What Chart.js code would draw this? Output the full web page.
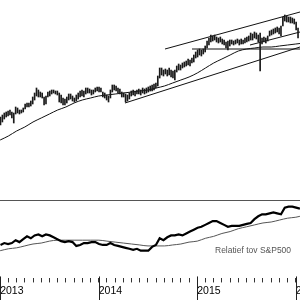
<!DOCTYPE html>
<html><head><meta charset="utf-8">
<script src="https://cdn.jsdelivr.net/npm/chart.js@4/dist/chart.umd.min.js"></script>
<style>
html,body{margin:0;padding:0;background:#fff;width:300px;height:300px;overflow:hidden}
canvas{position:absolute;left:0;display:block}
#c1{top:0}
#c2{top:200px}
</style></head><body>
<canvas id="c1" width="300" height="200"></canvas>
<canvas id="c2" width="300" height="100"></canvas>
<script>
// x unit: months since January 2013
const X_MIN = -0.02, X_MAX = 36.51;
const yearLabels = ['2013', '2014', '2015', '2016'];
const monthTicks = Array.from({length: 37}, (_, i) => i);
const firstWeek = 0.04, weekStep = 12 / 52;

// weekly price bars (relative price units)
const barHigh = [83,85,87,88,89,90,88,87,93,92, 90,90,92,96,97,97,99,103,107,112,
  110,108,107,103,104,108,109,110,110,109, 109,107,105,102,101,103,106,106,104,102,
  105,107,109,110,109,112,112,111,110,110, 112,113,113,112,108,107,105,104,110,115,
  115,114,112,111,108,107,106,105,107,109, 110,109,110,111,110,112,111,112,113,114,
  115,116,117,124,132,132,130,131,130,132, 130,129,130,134,136,135,137,138,139,141,
  140,142,145,148,150,151,150,151,154,159, 162,165,164,165,163,162,163,161,160,158,
  159,160,160,159,160,161,160,161,160,162, 163,164,167,166,168,167,165,167,162,163,
  162,164,169,170,171,172,173,172,174,183, 185,184,183,183,182,181,178,172];
const barLow = [75,78,81,83,84,85,82,77,86,87, 86,87,88,91,93,93,94,96,100,104,
  103,103,102,95,96,103,104,106,107,106, 105,98,97,95,95,97,100,101,99,98,
  99,101,103,104,103,106,107,107,105,106, 108,109,108,108,103,102,100,98,102,108,
  110,109,107,106,103,103,98,99,101,104, 105,104,106,106,105,107,106,107,108,109,
  109,110,112,114,122,125,124,126,124,125, 123,122,120,128,130,130,132,133,134,135,
  134,137,138,142,143,145,144,146,148,152, 155,158,159,160,158,157,158,156,155,152,
  150,154,156,155,156,157,155,156,156,157, 158,159,160,160,162,161,158,129,156,158,
  157,159,164,165,166,167,168,166,164,174, 179,178,178,177,177,176,170,162];

// long moving average of price, monthly
const priceMA = [60,64,69,73,78,82,86,90,93,97,100,102,104,105,106,107,108,109,110,112,
  114,117,120,123,127,132,137,141,145,149,151,152,153,153,154,155,156,157];

// trend lines: [month, price] end points
const channelUpper = [[20.07,151],[36.51,188]];
const channelLower = [[30.42,155],[36.51,168]];
const levelLine = [[23.36,151],[36.51,151]];
const supportLine = [[15.20,97],[36.51,153]];

// relative strength vs S&P500 (biweekly) and its moving average (monthly)
const rsValues = [35,37,36,37,40,38,41,44,42,45, 46,44,46,45,43,41,39,38,39,38,
  34,35,37,37,38,38,36,35,35,37, 35,34,33,32,31,30,31,29,29,29,
  33,35,42,40,43,45,45,46,45,47, 49,51,53,54,56,58,60,60,58,56,
  54,55,55,55,56,57,58,62,65,67, 67,68,69,68,67,74,75,75,74,73];
const rsMA = [29,31,32,34,36,37,39,40,40,40, 40,40,40,39,38,37,36,35,34,34,
  34,35,36,38,39,42,44,47,49,52, 54,56,58,59,61,63,64,66];
const rsLabel = 'Relatief tov S&P500';

const bars = barHigh.map((h, i) => ({x: firstWeek + i * weekStep, y: [barLow[i], h]}));
const maPts = priceMA.map((v, i) => ({x: i, y: v}));
const seg = (p) => p.map(([x, y]) => ({x, y}));
const rsPts = rsValues.map((v, k) => ({x: firstWeek + k * 2 * weekStep, y: v}));
const rsMAPts = rsMA.map((v, i) => ({x: i, y: v}));

const lineDs = (data, color, w, smooth) => ({type: 'line', data, borderColor: color, borderWidth: w,
  pointRadius: 0, fill: false, tension: smooth ? 0.4 : 0, cubicInterpolationMode: smooth ? 'monotone' : 'default'});
const noPad = (s) => { s.paddingLeft = 0; s.paddingRight = 0; };
const FONT = '"Liberation Sans", Arial, sans-serif';

new Chart(document.getElementById('c1'), {
  type: 'bar',
  data: {datasets: [
    {type: 'bar', data: bars, backgroundColor: '#1a1a1a', borderWidth: 0, barThickness: 1, grouped: false},
    lineDs(maPts, '#111', 1, true),
    lineDs(seg(channelUpper), '#111', 1, false),
    lineDs(seg(channelLower), '#111', 1, false),
    lineDs(seg(levelLine), '#111', 1, false),
    lineDs(seg(supportLine), '#111', 1, false)
  ]},
  options: {
    responsive: false, animation: false, events: [],
    layout: {padding: 0},
    plugins: {legend: {display: false}, tooltip: {enabled: false}},
    scales: {
      x: {type: 'linear', min: X_MIN, max: X_MAX, offset: false, display: false},
      y: {display: false, min: 0, max: 200}
    }
  }
});

const yearMarks = {
  id: 'yearMarks',
  afterDraw(chart) {
    const {ctx, chartArea} = chart;
    const x = chart.scales.x, y = chart.scales.y;
    ctx.save();
    ctx.strokeStyle = '#222'; ctx.lineWidth = 1;
    yearLabels.forEach((_, j) => {
      const px = Math.round(x.getPixelForValue(j * 12)) + 0.5;
      ctx.beginPath(); ctx.moveTo(px, chartArea.bottom - 2); ctx.lineTo(px, chart.height); ctx.stroke();
    });
    ctx.fillStyle = '#555';
    ctx.font = '8.5px ' + FONT;
    ctx.textBaseline = 'middle';
    ctx.fillText(rsLabel, x.getPixelForValue(26.16), y.getPixelForValue(29));
    ctx.restore();
  }
};

new Chart(document.getElementById('c2'), {
  type: 'line',
  data: {datasets: [
    lineDs(rsPts, '#000', 2.2, false),
    lineDs(rsMAPts, '#555', 1, true)
  ]},
  options: {
    responsive: false, animation: false, events: [],
    layout: {padding: 0},
    plugins: {legend: {display: false}, tooltip: {enabled: false}},
    scales: {
      x: {type: 'linear', min: X_MIN, max: X_MAX, offset: false,
        afterBuildTicks: (s) => { s.ticks = monthTicks.map(v => ({value: v})); },
        afterFit: noPad,
        grid: {display: true, drawOnChartArea: false, drawTicks: true, tickLength: 4, color: '#333', lineWidth: 1},
        border: {display: false},
        ticks: {autoSkip: false, maxRotation: 0, minRotation: 0, align: 'start', padding: 3, color: '#000',
          font: {family: FONT, size: 10.5, lineHeight: 1.1},
          callback: (v) => (v % 12 === 0 ? yearLabels[v / 12] : '')}
      },
      xTop: {type: 'linear', position: 'top', min: X_MIN, max: X_MAX, offset: false, display: true,
        ticks: {display: false}, grid: {display: false, drawTicks: false},
        border: {display: true, color: '#555', width: 1}, afterFit: noPad},
      y: {display: false, min: 0, max: 82}
    }
  },
  plugins: [yearMarks]
});
</script>
</body></html>
